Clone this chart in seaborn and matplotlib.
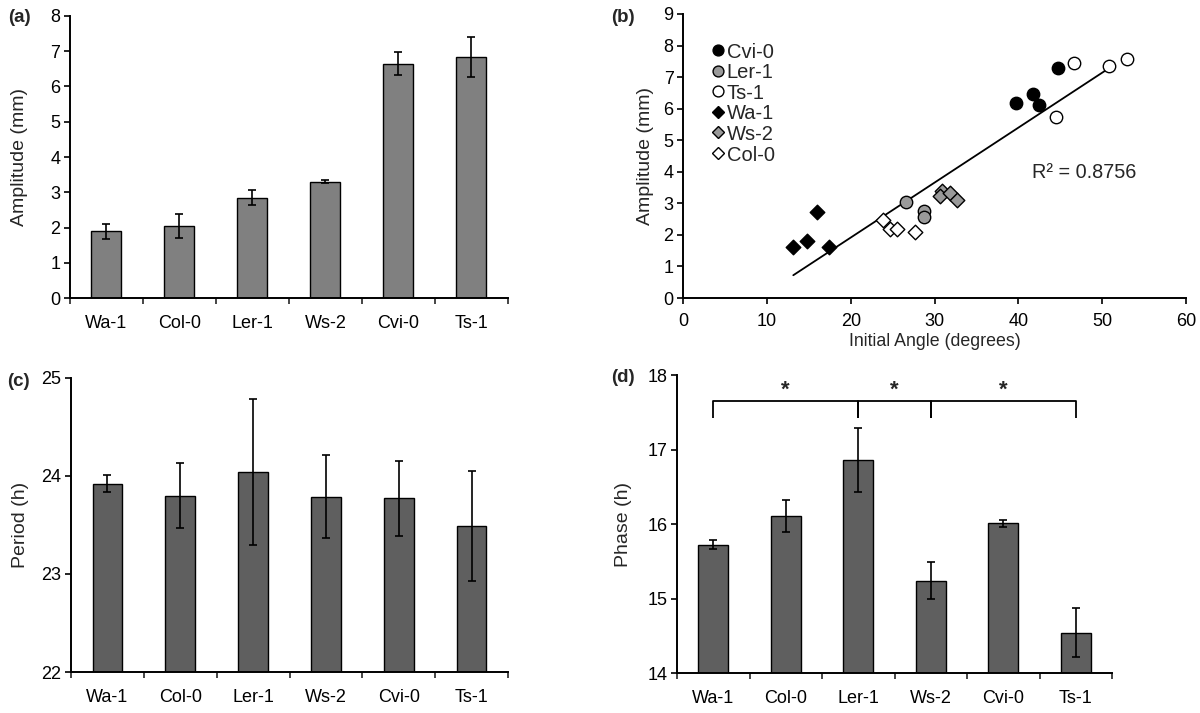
import numpy as np
import pandas as pd
import matplotlib
matplotlib.use("Agg")
import matplotlib.pyplot as plt
import seaborn as sns

sns.set_style("ticks")
plt.rcParams['font.family'] = ['Liberation Sans', 'DejaVu Sans']

# ---------------- data ----------------
accessions = ["Wa-1", "Col-0", "Ler-1", "Ws-2", "Cvi-0", "Ts-1"]

amplitude = [1.89, 2.03, 2.85, 3.30, 6.65, 6.83]
amplitude_err = [0.22, 0.34, 0.20, 0.05, 0.32, 0.56]

period = [23.92, 23.80, 24.04, 23.79, 23.77, 23.49]
period_err = [0.085, 0.33, 0.74, 0.42, 0.385, 0.565]

phase = [15.72, 16.105, 16.86, 15.24, 16.01, 14.54]
phase_err = [0.06, 0.215, 0.43, 0.25, 0.05, 0.33]

# scatter (b): initial angle vs amplitude per accession
cvi_x = [44.77, 41.78, 39.71, 42.46]
cvi_y = [7.28, 6.48, 6.18, 6.13]
ler_x = [26.59, 28.73, 28.73]
ler_y = [3.03, 2.76, 2.58]
ts_x = [46.68, 50.86, 53.0, 44.49]
ts_y = [7.44, 7.36, 7.57, 5.72]
wa_x = [16.0, 14.72, 13.13, 17.35]
wa_y = [2.73, 1.81, 1.62, 1.62]
ws_x = [30.85, 30.64, 31.84, 32.71]
ws_y = [3.40, 3.22, 3.32, 3.11]
col_x = [23.80, 24.67, 25.47, 27.66]
col_y = [2.46, 2.18, 2.18, 2.09]
r2_text = "R² = 0.8756"

# significance brackets (d): pairs of category indices
sig_pairs = [(0, 2), (2, 3), (3, 5)]

# ---------------- figure ----------------
fig = plt.figure(figsize=(12, 7.13), dpi=100)

TICK_FS = 13
LABEL_FS = 14
light_bar = "#808080"
dark_bar = "#5f5f5f"


def style_axes(ax):
    sns.despine(ax=ax)
    for s in ["left", "bottom"]:
        ax.spines[s].set_linewidth(1.4)
        ax.spines[s].set_color("black")
    ax.tick_params(axis="y", which="major", direction="out", length=4,
                   width=1.2, pad=3, labelsize=TICK_FS, colors="black")


def bar_panel(rect, vals, errs, color, ylim, yticks, ylabel, labelpad):
    ax = fig.add_axes(rect)
    df = pd.DataFrame({"acc": accessions, "val": vals})
    sns.barplot(data=df, x="acc", y="val", color=color, saturation=1,
                edgecolor="black", linewidth=1.0, width=0.41,
                errorbar=None, ax=ax)
    ax.errorbar(np.arange(len(vals)), vals, yerr=errs, fmt="none",
                ecolor="black", elinewidth=1.2, capsize=3, capthick=1.2,
                zorder=5)
    ax.set_xlim(-0.5, len(vals) - 0.5)
    ax.set_ylim(*ylim)
    ax.set_yticks(yticks)
    ax.set_xlabel("")
    ax.set_ylabel(ylabel, fontsize=LABEL_FS, labelpad=labelpad)
    style_axes(ax)
    ax.set_xticks(np.arange(-0.5, len(vals), 1), minor=True)
    ax.tick_params(axis="x", which="major", length=0, pad=12,
                   labelsize=TICK_FS, colors="black")
    ax.tick_params(axis="x", which="minor", direction="out", length=4,
                   width=1.2)
    return ax


# (a)
ax_a = bar_panel([0.0583, 0.582, 0.365, 0.3956], amplitude, amplitude_err,
                 light_bar, (0, 8), range(0, 9), "Amplitude (mm)", 16)

# (c)
ax_c = bar_panel([0.0592, 0.0575, 0.3641, 0.4125], period, period_err,
                 dark_bar, (22, 25), [22, 23, 24, 25], "Period (h)", 9)

# (d)
ax_d = bar_panel([0.5642, 0.056, 0.3625, 0.418], phase, phase_err,
                 dark_bar, (14, 18), [14, 15, 16, 17, 18], "Phase (h)", 11)

bracket_y = 17.65
bracket_drop = 0.22
for (i, j) in sig_pairs:
    ax_d.plot([i, i, j, j],
              [bracket_y - bracket_drop, bracket_y, bracket_y, bracket_y - bracket_drop],
              color="black", lw=1.3, solid_joinstyle="round",
              solid_capstyle="butt", clip_on=False)
    ax_d.text((i + j) / 2, bracket_y + 0.15, "*", ha="center", va="center",
              fontsize=16, fontweight="bold")

# (b)
ax_b = fig.add_axes([0.5694, 0.582, 0.4189, 0.3984])
groups = [
    ("Cvi-0", cvi_x, cvi_y, "o", "black", 80),
    ("Ler-1", ler_x, ler_y, "o", "#9a9a9a", 80),
    ("Ts-1", ts_x, ts_y, "o", "white", 80),
    ("Wa-1", wa_x, wa_y, "D", "black", 55),
    ("Ws-2", ws_x, ws_y, "D", "#9a9a9a", 55),
    ("Col-0", col_x, col_y, "D", "white", 55),
]
for k, (name, gx, gy, mk, fc, sz) in enumerate(groups):
    sns.scatterplot(x=gx, y=gy, marker=mk, color=fc, edgecolor="black",
                    linewidth=1.0, s=sz, ax=ax_b, zorder=3)
    # legend entry (marker + label), drawn in axes coordinates
    ly = 0.873 - 0.0725 * k
    ax_b.plot([0.069], [ly], marker=mk, linestyle="none",
              markerfacecolor=fc, markeredgecolor="black",
              markeredgewidth=1.0, markersize=7.8 if mk == "o" else 6.6,
              transform=ax_b.transAxes, clip_on=False, zorder=4)
    ax_b.text(0.086, ly, name, transform=ax_b.transAxes, fontsize=14.5,
              ha="left", va="center_baseline")

all_x = np.concatenate([cvi_x, ler_x, ts_x, wa_x, ws_x, col_x])
all_y = np.concatenate([cvi_y, ler_y, ts_y, wa_y, ws_y, col_y])
slope, intercept = np.polyfit(all_x, all_y, 1)
fit_x = np.array([all_x.min(), 51.0])
ax_b.plot(fit_x, slope * fit_x + intercept, color="black", lw=1.3, zorder=2)

ax_b.text(41.6, 3.99, r2_text, fontsize=14.3, ha="left", va="center")
ax_b.set_xlim(0, 60)
ax_b.set_ylim(0, 9)
ax_b.set_xticks(range(0, 61, 10))
ax_b.set_yticks(range(0, 10))
ax_b.set_xlabel("Initial Angle (degrees)", fontsize=12.8, labelpad=2)
ax_b.set_ylabel("Amplitude (mm)", fontsize=LABEL_FS, labelpad=7)
style_axes(ax_b)
ax_b.tick_params(axis="x", which="major", direction="out", length=4,
                 width=1.2, pad=7, labelsize=TICK_FS, colors="black")

# panel labels
for lbl, x, y in [("(a)", 0.007, 0.975), ("(b)", 0.509, 0.975),
                  ("(c)", 0.006, 0.465), ("(d)", 0.509, 0.47)]:
    fig.text(x, y, lbl, fontsize=13.5, fontweight="bold", ha="left",
             va="center")

fig.savefig("out.png", dpi=100)
